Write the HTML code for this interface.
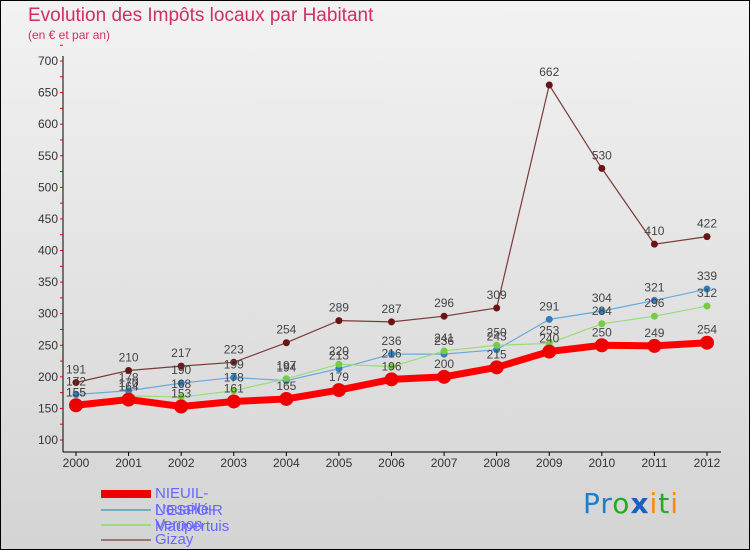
<!DOCTYPE html>
<html><head><meta charset="utf-8"><style>
body{margin:0;}
#wrap{position:relative;width:748px;height:548px;border:1px solid #000;background:linear-gradient(#f2f2f2,#d4d4d4);font-family:"Liberation Sans",sans-serif;overflow:hidden}
.t{position:absolute;}
</style></head><body>
<div id="wrap">
<div class="t" style="left:27px;top:4px;font-size:19px;color:#d03060">Evolution des Impôts locaux par Habitant</div>
<div class="t" style="left:27px;top:27px;font-size:12px;color:#d03060">(en € et par an)</div>
<svg id="svg" width="748" height="548" style="position:absolute;left:0;top:0"></svg>
<div class="t" style="left:98px;top:486px">
 <div style="position:relative;height:16px"><span style="position:absolute;left:2px;top:3px;width:50px;height:8px;background:#e00"></span><span style="position:absolute;left:56px;top:-2px;font-size:15px;color:#66f">NIEUIL-L'ESPOIR</span></div>
 <div style="position:relative;height:15px"><span style="position:absolute;left:2px;top:6px;width:50px;height:2px;background:#7ab"></span><span style="position:absolute;left:56px;top:-2px;font-size:15px;color:#66f">Nouaillé-Maupertuis</span></div>
 <div style="position:relative;height:15px"><span style="position:absolute;left:2px;top:6px;width:50px;height:2px;background:#9d7"></span><span style="position:absolute;left:56px;top:-2px;font-size:15px;color:#66f">Vernon</span></div>
 <div style="position:relative;height:15px"><span style="position:absolute;left:2px;top:6px;width:50px;height:2px;background:#977"></span><span style="position:absolute;left:56px;top:-2px;font-size:15px;color:#66f">Gizay</span></div>
</div>
<div class="t" style="left:582px;top:486px;font-size:28px;font-family:'DejaVu Sans',sans-serif;letter-spacing:1px"><span style="color:#1a7fd0">Pr</span><span style="color:#2a2">o</span><span style="color:#1a60c0;font-weight:bold">x</span><span style="color:#f80">i</span><span style="color:#2a2">t</span><span style="color:#f80">i</span></div>
</div>
<script>
const years=[2000,2001,2002,2003,2004,2005,2006,2007,2008,2009,2010,2011,2012];
const nieuil=[155,164,153,161,165,179,196,200,215,240,250,249,254];
const nouaille=[172,178,190,199,194,213,236,236,243,291,304,321,339];
const vernon=[155,170,168,178,197,220,216,241,250,253,284,296,312];
const gizay=[191,210,217,223,254,289,287,296,309,662,530,410,422];
const yTicks=[100,150,200,250,300,350,400,450,500,550,600,650,700];
const NS="http://www.w3.org/2000/svg",svg=document.getElementById('svg');
const x=i=>75+i*(706-75)/(years.length-1);
const y=v=>439-(v-100)*(439-60)/600;
function el(t,a,p){const e=document.createElementNS(NS,t);for(const k in a)e.setAttribute(k,a[k]);(p||svg).appendChild(e);return e;}
const ax=el('line',{x1:62,y1:55,x2:62,y2:451,stroke:'#000'});


const bx=el('line',{x1:62,y1:451,x2:720,y2:451,stroke:'#000'});


yTicks.forEach(v=>{
 const t=el('text',{x:57,y:y(v)+4,'text-anchor':'end','font-size':12,fill:'#333'});t.textContent=v;
 
 
 el('line',{x1:59,x2:62,y1:y(v),y2:y(v),stroke:'#e00'});
 el('line',{x1:59,x2:62,y1:y(v+25),y2:y(v+25),stroke:'#e00'});
});
years.forEach((yr,i)=>{
 el('line',{x1:x(i),x2:x(i),y1:451,y2:455,stroke:'#000'});
 const t=el('text',{x:x(i),y:466,'text-anchor':'middle','font-size':12,fill:'#333'});t.textContent=yr;
 
 
});
function series(d,col,dot,w,r,name){
 const g=el('g',{});
 
 
 el('polyline',{points:d.map((v,i)=>x(i)+','+y(v)).join(' '),fill:'none',stroke:col,'stroke-width':w},g);
 d.forEach((v,i)=>{
  const c=el('circle',{cx:x(i),cy:y(v),r:r,fill:dot},g);
  
  
  const t=el('text',{x:x(i),y:y(v)-9,'text-anchor':'middle','font-size':12,fill:'#444'},g);t.textContent=v;
  
  
 });
}
series(gizay,'#7a3a3a','#6a1515',1.2,3.5,'series-gizay');
series(nouaille,'#6aaadd','#3080c0',1.2,3.5,'series-nouaille');
series(vernon,'#99dd77','#77cc44',1.2,3.5,'series-vernon');
series(nieuil,'#f00','#e00',7,7,'series-nieuil');
</script>
</body></html>
